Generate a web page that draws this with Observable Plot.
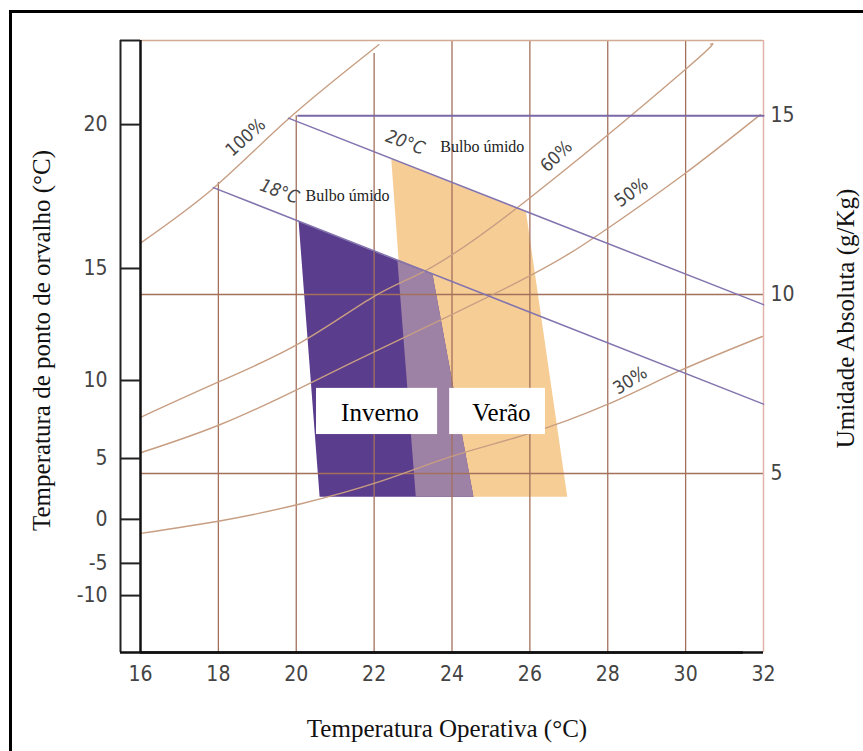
<!DOCTYPE html>
<html><head><meta charset="utf-8">
<script src="https://cdn.jsdelivr.net/npm/d3@7"></script>
<script src="https://cdn.jsdelivr.net/npm/@observablehq/plot@0.6"></script>
<style>
html,body{margin:0;padding:0;background:#fff;}
#wrap{position:relative;width:863px;height:751px;overflow:hidden;}
#frame{position:absolute;left:9px;top:10px;width:900px;height:800px;border:3px solid #000;box-sizing:border-box;pointer-events:none;z-index:2}
#wrap svg{position:absolute;left:0;top:0}
</style></head><body><div id="wrap"><div id="frame"></div></div>
<script>
// ---- axes / ticks ----
const xTicks = [16, 18, 20, 22, 24, 26, 28, 30, 32];
const rightTicks = [5, 10, 15];
const dewLabels = ["20", "15", "10", "5", "0", "-5", "-10"];
const dewW = [14.75, 10.73, 7.60, 5.42, 3.72, 2.49, 1.59];
const yMax = 17.1;

// ---- relative humidity curves (T °C, W g/kg) ----
const rh100T = [16, 17.88, 19.81, 22.12];
const rh100W = [11.44, 12.98, 14.92, 16.98];
const rh60T = [16, 18.05, 20.1, 22.0, 23.37, 25.89, 29.94, 30.64];
const rh60W = [6.57, 7.58, 8.65, 9.95, 10.7, 12.61, 16.24, 17.0];
const rh50T = [16, 18.05, 20.1, 22.0, 25.76, 27.89, 29.94, 31.92];
const rh50W = [5.58, 6.37, 7.39, 8.4, 10.39, 11.77, 13.35, 15.03];
const rh30T = [16, 18.1, 20.1, 22.16, 24.05, 25.93, 27.99, 29.87, 31.97];
const rh30W = [3.33, 3.69, 4.15, 4.78, 5.5, 6.1, 6.93, 7.88, 8.83];

// ---- wet bulb lines ----
const wb18T = [17.87, 32];
const wb18W = [12.99, 6.94];
const wb20T = [19.8, 32];
const wb20W = [14.93, 9.72];
const line15T = [20.05, 32];
const line15W = [15, 15];

// ---- grid ----
const gridT = [18, 20, 22, 24, 26, 28, 30];
const gridTop = [13.13, 15.0, 16.74, 17.1, 17.1, 17.1, 17.1];
const gridW = [5, 10];

// ---- comfort zones ----
const summerT = [22.44, 25.90, 26.96, 23.07];
const summerW = [13.79, 12.31, 4.35, 4.35];
const winterT = [20.06, 23.50, 24.55, 20.60];
const winterW = [12.05, 10.56, 4.35, 4.35];
const overlapT = [22.60, 23.50, 24.55, 23.07];
const overlapW = [10.94, 10.56, 4.35, 4.35];

// ---- annotations ----
const rhLabels = ["100%", "60%", "50%", "30%"];
const rhLabelT = [18.70, 26.68, 28.61, 28.58];
const rhLabelW = [14.39, 13.86, 12.85, 7.60];
const rhLabelAngle = [-42, -44, -36, -32];
const wbLabels = ["18°C", "20°C"];
const wbLabelT = [19.57, 22.80];
const wbLabelW = [12.88, 14.25];
const bulboT = [20.24, 23.70];
const bulboW = [12.77, 14.14];
const zoneNames = ["Inverno", "Verão"];
const zoneBoxT1 = [20.52, 23.94];
const zoneBoxT2 = [23.63, 26.40];
const zoneBoxW1 = [6.09, 6.09];
const zoneBoxW2 = [7.38, 7.38];
const zoneTextT = [22.15, 25.27];
const zoneTextW = [6.68, 6.68];

const pts = (T, W) => T.map((t, i) => ({T: t, W: W[i]}));
const dewMap = new Map(dewW.map((w, i) => [w, dewLabels[i]]));

const sans = "'DejaVu Sans Condensed', 'DejaVu Sans', sans-serif";
const serif = "'Liberation Serif', 'Times New Roman', serif";

const brown = "#a3705c";
const tan = "#c79e82";
const purple = "#8374ae";

const chart = Plot.plot({
  width: 863,
  height: 751,
  marginLeft: 140,
  marginRight: 100,
  marginTop: 40,
  marginBottom: 99,
  style: {fontFamily: sans, background: "transparent", overflow: "visible"},
  x: {domain: [16, 32], axis: null},
  y: {domain: [0, yMax], axis: null},
  marks: [
    // zones
    Plot.line(pts(summerT, summerW), {x: "T", y: "W", fill: "#f7cd96", stroke: "none", curve: "linear-closed"}),
    Plot.line(pts(winterT, winterW), {x: "T", y: "W", fill: "#5b3d8d", stroke: "none", curve: "linear-closed"}),
    Plot.line(pts(overlapT, overlapW), {x: "T", y: "W", fill: "#9e82a6", stroke: "none", curve: "linear-closed"}),
    // grid
    Plot.ruleX(gridT.map((t, i) => ({T: t, top: gridTop[i]})), {x: "T", y1: 0, y2: "top", stroke: brown, strokeWidth: 1.3}),
    Plot.ruleY(gridW, {stroke: brown, strokeWidth: 1.5}),
    Plot.ruleY([yMax], {stroke: "#d2ab92", strokeWidth: 1.5}),
    Plot.ruleX([32], {stroke: "#e2b3aa", strokeWidth: 1.5}),
    // RH curves
    Plot.line(pts(rh100T, rh100W), {x: "T", y: "W", stroke: tan, strokeWidth: 1.4, curve: "natural"}),
    Plot.line(pts(rh60T, rh60W), {x: "T", y: "W", stroke: tan, strokeWidth: 1.4, curve: "natural"}),
    Plot.line(pts(rh50T, rh50W), {x: "T", y: "W", stroke: tan, strokeWidth: 1.4, curve: "natural"}),
    Plot.line(pts(rh30T, rh30W), {x: "T", y: "W", stroke: tan, strokeWidth: 1.4, curve: "natural"}),
    // wet bulb lines
    Plot.line(pts(wb18T, wb18W), {x: "T", y: "W", stroke: purple, strokeWidth: 1.5}),
    Plot.line(pts(wb20T, wb20W), {x: "T", y: "W", stroke: purple, strokeWidth: 1.5}),
    Plot.line(pts(line15T, line15W), {x: "T", y: "W", stroke: "#7a68a8", strokeWidth: 2}),
    // left bar & bottom axis
    Plot.ruleX([16], {stroke: "#111", strokeWidth: 2.5}),
    Plot.ruleX([16], {dx: -20, stroke: "#222", strokeWidth: 2}),
    Plot.ruleY([0], {stroke: "#111", strokeWidth: 2.5}),
    Plot.ruleY([0], {dx: -20, stroke: "#111", strokeWidth: 2.5}),
    Plot.axisY([...dewW, yMax], {anchor: "left", tickSize: 20, tickFormat: () => "", stroke: "#222", strokeWidth: 2, label: null}),
    Plot.axisY(dewW, {anchor: "left", tickSize: 0, tickPadding: 33, tickFormat: d => dewMap.get(d), fontSize: 21, color: "#444", label: null}),
    Plot.axisY(rightTicks, {anchor: "right", tickSize: 0, tickPadding: 7, fontSize: 21, color: "#444", label: null}),
    Plot.axisX(xTicks, {anchor: "bottom", tickSize: 0, tickPadding: 14, fontSize: 21, color: "#444", label: null}),
    // curve labels
    Plot.text(rhLabels.map((s, i) => ({s, T: rhLabelT[i], W: rhLabelW[i], a: rhLabelAngle[i]})),
      {x: "T", y: "W", text: "s", rotate: "a", fontSize: 18, fill: "#444", fontFamily: sans}),
    Plot.text(wbLabels.map((s, i) => ({s, T: wbLabelT[i], W: wbLabelW[i]})),
      {x: "T", y: "W", text: "s", rotate: 20, fontSize: 18, fontStyle: "italic", fill: "#444", fontFamily: sans}),
    Plot.text(bulboT.map((t, i) => ({s: "Bulbo úmido", T: t, W: bulboW[i]})),
      {x: "T", y: "W", text: "s", textAnchor: "start", fontSize: 16, fill: "#222", fontFamily: serif}),
    // zone label boxes
    Plot.rect(zoneNames.map((s, i) => ({s, x1: zoneBoxT1[i], x2: zoneBoxT2[i], y1: zoneBoxW1[i], y2: zoneBoxW2[i]})),
      {x1: "x1", x2: "x2", y1: "y1", y2: "y2", fill: "white"}),
    Plot.text(zoneNames.map((s, i) => ({s, T: zoneTextT[i], W: zoneTextW[i]})),
      {x: "T", y: "W", text: "s", fontSize: 25, fill: "#000", fontFamily: serif}),
    // axis titles
    Plot.text(["Temperatura Operativa (°C)"], {frameAnchor: "bottom", textAnchor: "middle", dx: -5, dy: 84, fontSize: 25, fill: "#111", fontFamily: serif}),
    Plot.text(["Temperatura de ponto de orvalho (°C)"], {frameAnchor: "left", textAnchor: "middle", rotate: -90, dx: -99, dy: -6, fontSize: 25, fill: "#111", fontFamily: serif}),
    Plot.text(["Umidade Absoluta (g/Kg)"], {frameAnchor: "right", textAnchor: "middle", rotate: -90, dx: 82, dy: -28, fontSize: 25, fill: "#111", fontFamily: serif})
  ]
});
document.getElementById("wrap").appendChild(chart);
</script>
</body></html>
